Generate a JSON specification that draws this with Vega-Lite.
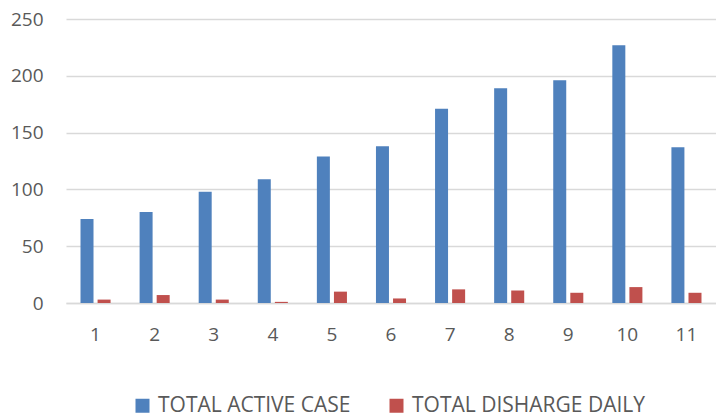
{
  "$schema": "https://vega.github.io/schema/vega-lite/v6.json",
  "width": 650,
  "height": 284,
  "autosize": {"type": "none"},
  "padding": {"left": 66, "top": 19, "right": 0, "bottom": 114},
  "background": "white",
  "data": {
    "values": [
      {"day": "1", "series": "TOTAL ACTIVE CASE", "value": 74},
      {"day": "2", "series": "TOTAL ACTIVE CASE", "value": 80},
      {"day": "3", "series": "TOTAL ACTIVE CASE", "value": 98},
      {"day": "4", "series": "TOTAL ACTIVE CASE", "value": 109},
      {"day": "5", "series": "TOTAL ACTIVE CASE", "value": 129},
      {"day": "6", "series": "TOTAL ACTIVE CASE", "value": 138},
      {"day": "7", "series": "TOTAL ACTIVE CASE", "value": 171},
      {"day": "8", "series": "TOTAL ACTIVE CASE", "value": 189},
      {"day": "9", "series": "TOTAL ACTIVE CASE", "value": 196},
      {"day": "10", "series": "TOTAL ACTIVE CASE", "value": 227},
      {"day": "11", "series": "TOTAL ACTIVE CASE", "value": 137},
      {"day": "1", "series": "TOTAL DISHARGE DAILY", "value": 3},
      {"day": "2", "series": "TOTAL DISHARGE DAILY", "value": 7},
      {"day": "3", "series": "TOTAL DISHARGE DAILY", "value": 3},
      {"day": "4", "series": "TOTAL DISHARGE DAILY", "value": 1},
      {"day": "5", "series": "TOTAL DISHARGE DAILY", "value": 10},
      {"day": "6", "series": "TOTAL DISHARGE DAILY", "value": 4},
      {"day": "7", "series": "TOTAL DISHARGE DAILY", "value": 12},
      {"day": "8", "series": "TOTAL DISHARGE DAILY", "value": 11},
      {"day": "9", "series": "TOTAL DISHARGE DAILY", "value": 9},
      {"day": "10", "series": "TOTAL DISHARGE DAILY", "value": 14},
      {"day": "11", "series": "TOTAL DISHARGE DAILY", "value": 9}
    ]
  },
  "mark": {"type": "bar", "width": 13},
  "encoding": {
    "x": {
      "field": "day",
      "type": "ordinal",
      "sort": null,
      "scale": {"paddingInner": 0.49, "paddingOuter": 0.245},
      "axis": {
        "title": null,
        "labelAngle": 0,
        "labelFont": "Open Sans",
        "labelFontSize": 19,
        "labelColor": "#595959",
        "labelPadding": 22,
        "ticks": false,
        "domainColor": "#d9d9d9",
        "domainWidth": 1.5
      }
    },
    "xOffset": {
      "field": "series",
      "type": "nominal",
      "scale": {"paddingInner": 0.235, "paddingOuter": 0}
    },
    "y": {
      "field": "value",
      "type": "quantitative",
      "scale": {"domain": [0, 250], "nice": false},
      "axis": {
        "title": null,
        "values": [0, 50, 100, 150, 200, 250],
        "labelFont": "Open Sans",
        "labelFontSize": 19,
        "labelColor": "#595959",
        "labelPadding": 23,
        "ticks": false,
        "domain": false,
        "gridColor": "#d9d9d9",
        "gridWidth": 1.5
      }
    },
    "color": {
      "field": "series",
      "type": "nominal",
      "scale": {"domain": ["TOTAL ACTIVE CASE", "TOTAL DISHARGE DAILY"], "range": ["#4f81bd", "#c0504d"]},
      "legend": {
        "title": null,
        "orient": "none",
        "legendX": 66,
        "legendY": 376,
        "direction": "horizontal",
        "symbolType": "square",
        "symbolSize": 196,
        "symbolStrokeWidth": 0,
        "labelFont": "Open Sans",
        "labelFontSize": 21,
        "labelColor": "#595959",
        "labelOffset": 5,
        "columnPadding": 35,
        "labelLimit": 400
      }
    }
  },
  "config": {"view": {"stroke": null}}
}
